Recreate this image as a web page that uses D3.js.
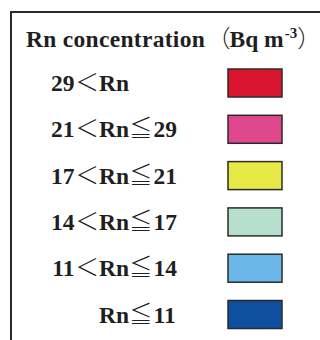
<!DOCTYPE html>
<html>
<head>
<meta charset="utf-8">
<script src="https://cdn.jsdelivr.net/npm/d3@7"></script>
<style>
  html, body { margin: 0; padding: 0; background: #fff; }
  svg { display: block; }
  .lbl { font-family: "Liberation Serif", "Times New Roman", serif; font-weight: bold; fill: #1f1f1f; }
  .sym { font-family: "Noto Sans CJK JP", sans-serif; font-weight: 300; }
</style>
</head>
<body>
<svg id="legend" width="320" height="340"></svg>
<script>
// Radon concentration classes (Bq m-3), highest first
const lowerBounds = [29, 21, 17, 14, 11, null];
const upperBounds = [null, 29, 21, 17, 14, 11];
const classColors = ["#da1530", "#e0488d", "#e6e946", "#b6e0cd", "#6bb6e8", "#0f4f9f"];
const titleText = "Rn concentration";
const unitText = ["（Bq m", "-3", "）"];

const svg = d3.select("#legend");
const W = 320, H = 340;
const fs = 23.5;

// frame: left and top edges of the legend box
svg.append("path")
  .attr("d", d3.line()([[11, H + 5], [11, 12], [W + 5, 12]]))
  .attr("fill", "none")
  .attr("stroke", "#2a2a2a")
  .attr("stroke-width", 2);

// title
svg.append("text").attr("class", "lbl")
  .attr("x", 26).attr("y", 46.5)
  .attr("font-size", fs)
  .attr("letter-spacing", 0.3)
  .text(titleText);

const unit = svg.append("text").attr("class", "lbl")
  .attr("x", 207).attr("y", 46.5)
  .attr("font-size", fs);
unit.append("tspan").attr("class", "sym").text(unitText[0].slice(0, 1));
unit.append("tspan").attr("dx", -1).text(unitText[0].slice(1));
unit.append("tspan").attr("font-size", 15).attr("dy", -9).attr("dx", 1).text(unitText[1]);
unit.append("tspan").attr("class", "sym").attr("dy", 9).text(unitText[2]);

// one row per class
const idx = d3.range(classColors.length);
const y = d3.scalePoint().domain(idx).range([83, 314.5]);

const rows = svg.selectAll("g.row").data(idx).join("g").attr("class", "row");

rows.append("rect")
  .attr("x", 228)
  .attr("y", i => y(i) - 14)
  .attr("width", 54)
  .attr("height", 28)
  .attr("fill", i => classColors[i])
  .attr("stroke", "#2b2b2b")
  .attr("stroke-width", 1.5);

const rnX = 99;

// lower bound and "<" to the left of "Rn"
const left = rows.filter(i => lowerBounds[i] != null)
  .append("text").attr("class", "lbl")
  .attr("x", rnX).attr("y", i => y(i) + 8)
  .attr("font-size", fs)
  .attr("text-anchor", "end");
left.append("tspan").text(i => lowerBounds[i]);
left.append("tspan").attr("class", "sym").attr("dx", 1).text("＜");

// "Rn" and "≦ upper" to the right
const right = rows.append("text").attr("class", "lbl")
  .attr("x", rnX).attr("y", i => y(i) + 8)
  .attr("font-size", fs);
right.append("tspan").text("Rn");
right.filter(i => upperBounds[i] != null).append("tspan").attr("class", "sym").text("≦");
right.filter(i => upperBounds[i] != null).append("tspan").attr("dx", 1).text(i => upperBounds[i]);
</script>
</body>
</html>
